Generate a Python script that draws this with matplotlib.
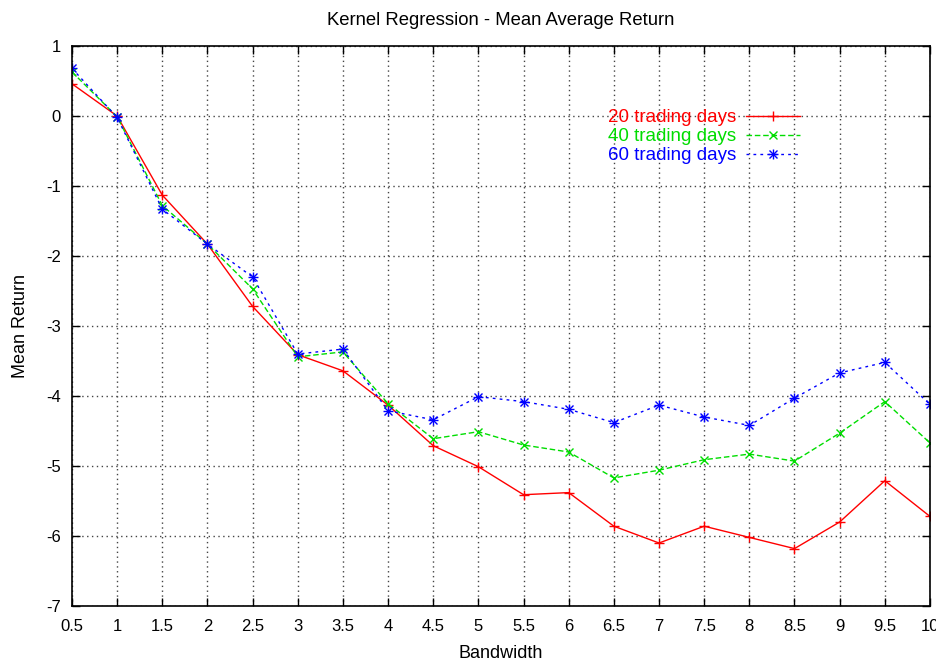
import matplotlib.pyplot as plt
from matplotlib.legend_handler import HandlerTuple

plt.rcParams['font.family'] = ['Liberation Sans', 'DejaVu Sans']
plt.rcParams['axes.unicode_minus'] = False

bandwidth = [0.5, 1, 1.5, 2, 2.5, 3, 3.5, 4, 4.5, 5, 5.5, 6, 6.5, 7, 7.5, 8, 8.5, 9, 9.5, 10]

ret_20 = [0.46, 0.0, -1.13, -1.83, -2.72, -3.41, -3.64, -4.13, -4.71, -5.01,
          -5.41, -5.38, -5.86, -6.10, -5.86, -6.02, -6.18, -5.80, -5.21, -5.72]
ret_40 = [0.63, -0.01, -1.28, -1.83, -2.47, -3.44, -3.37, -4.11, -4.61, -4.51,
          -4.70, -4.80, -5.17, -5.06, -4.91, -4.83, -4.93, -4.53, -4.08, -4.67]
ret_60 = [0.68, -0.02, -1.33, -1.83, -2.30, -3.40, -3.33, -4.21, -4.34, -4.01,
          -4.08, -4.19, -4.38, -4.13, -4.30, -4.42, -4.03, -3.67, -3.52, -4.12]

labels = ['20 trading days', '40 trading days', '60 trading days']
colors = ['#ff0000', '#00dd00', '#0000ff']

fig = plt.figure(figsize=(9.37, 6.61), dpi=100)
ax = fig.add_axes([0.0768, 0.0832, 0.9157, 0.8472])

l20, = ax.plot(bandwidth, ret_20, color=colors[0], lw=1, marker='+', ms=7, mew=1)
l40, = ax.plot(bandwidth, ret_40, color=colors[1], lw=1, ls=(0, (4, 2)),
               marker='x', ms=5.5, mew=1)
l60, = ax.plot(bandwidth, ret_60, color=colors[2], lw=1, ls=(0, (2, 3)),
               marker='+', ms=7, mew=1)
l60x, = ax.plot(bandwidth, ret_60, color=colors[2], lw=0, marker='x', ms=5.5, mew=1)

ax.set_xlim(0.5, 10)
ax.set_ylim(-7, 1)
ax.set_xticks(bandwidth)
ax.set_xticklabels([f'{b:g}' for b in bandwidth])
ax.set_yticks(range(-7, 2))
ax.tick_params(direction='in', top=True, right=True, length=6, labelsize=12,
               width=1)
ax.tick_params(axis='x', pad=9)
ax.tick_params(axis='y', pad=8)
ax.grid(True, color='#444444', ls=(0, (1, 2.5)), lw=1)
for s in ax.spines.values():
    s.set_linewidth(1.2)

ax.set_title('Kernel Regression - Mean Average Return', fontsize=13.3, pad=15)
ax.set_xlabel('Bandwidth', fontsize=13, labelpad=8)
ax.set_ylabel('Mean Return', fontsize=13, labelpad=12)

leg = ax.legend([l20, l40, (l60, l60x)], labels, loc='upper left',
                bbox_to_anchor=(0.625, 0.887), frameon=False, markerfirst=False,
                fontsize=13.5, handlelength=2.9, handletextpad=0.5,
                labelspacing=0.1, borderpad=0, borderaxespad=0,
                handler_map={tuple: HandlerTuple(ndivide=1)})
for txt, c in zip(leg.get_texts(), colors):
    txt.set_color(c)

fig.savefig('out.png', dpi=100)
